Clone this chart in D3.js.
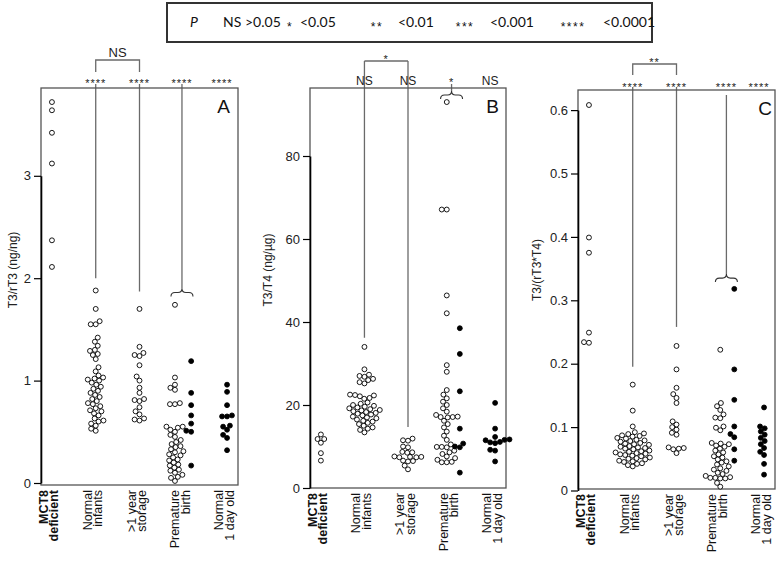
<!DOCTYPE html>
<html><head><meta charset="utf-8">
<script src="https://cdn.jsdelivr.net/npm/d3@7"></script>
<style>body{margin:0;background:#fff}</style>
</head><body><svg id="chart" width="777" height="561"></svg>
<script>
// ---------------- DATA ----------------
const categories = [["MCT8","deficient"],["Normal","infants"],[">1 year","storage"],["Premature","birth"],["Normal","1 day old"]];
const legendItems = [["NS",">0.05"],["*","<0.05"],["**","<0.01"],["***","<0.001"],["****","<0.0001"]];

// Panel A: T3/rT3 (ng/ng)
const ticksA = [0,1,2,3];
const a_mct8 = [3.72,3.64,3.42,3.12,2.37,2.11];
const a_infants = [1.88,1.70,1.58,1.55,1.55,1.42,1.38,1.34,1.30,1.29,1.26,1.25,1.21,1.13,1.09,1.05,1.03,1.02,1.01,1.00,0.98,0.96,0.94,0.92,0.90,0.88,0.86,0.84,0.82,0.80,0.78,0.77,0.75,0.73,0.71,0.70,0.68,0.66,0.63,0.61,0.60,0.58,0.56,0.53,0.51];
const a_storage = [1.70,1.33,1.27,1.25,1.24,1.15,1.04,1.00,0.93,0.88,0.82,0.81,0.80,0.74,0.70,0.67,0.63,0.62,0.61];
const a_premOpen = [1.74,1.03,0.96,0.93,0.91,0.78,0.77,0.77,0.55,0.55,0.54,0.52,0.50,0.47,0.45,0.42,0.40,0.38,0.36,0.35,0.33,0.31,0.30,0.28,0.27,0.25,0.23,0.22,0.20,0.18,0.17,0.15,0.13,0.12,0.10,0.08,0.06,0.05,0.02];
const a_premFilled = [1.19,0.88,0.76,0.66,0.58,0.51,0.50,0.17];
const a_day1 = [0.96,0.89,0.76,0.66,0.65,0.65,0.56,0.55,0.52,0.47,0.44,0.32];
const sigA = ["****","****","****","****"];
const lineEndA = [2.0,1.87,1.86];

// Panel B: T3/T4 (ng/µg)
const ticksB = [0,20,40,60,80];
const b_mct8 = [12.9,11.8,11.8,10.9,8.4,6.6];
const b_infants = [34.0,28.6,27.3,27.0,26.8,26.3,26.0,25.5,25.2,22.5,22.4,22.3,22.1,21.7,21.5,20.6,20.3,20.0,19.8,19.6,19.4,19.2,19.0,18.8,18.7,18.5,18.3,18.1,17.9,17.7,17.5,17.2,17.0,16.8,16.5,16.2,16.0,15.7,15.4,15.0,14.6,14.3,14.0,13.4];
const b_storage = [11.9,11.5,11.4,10.0,9.8,8.7,8.6,8.5,7.6,7.5,7.5,7.4,7.4,6.6,6.5,6.4,5.4,4.5];
const b_premOpen = [93.0,67.1,67.1,46.4,42.1,29.6,28.0,23.6,22.5,21.6,20.8,20.0,19.2,18.4,17.6,17.2,17.1,17.1,17.0,16.2,15.4,14.6,13.6,12.6,11.6,10.5,9.9,9.9,9.8,9.0,8.6,8.2,7.6,7.2,6.8,6.3,6.2,6.2];
const b_premFilled = [38.5,32.3,23.3,14.3,10.7,10.0,9.8,3.7];
const b_day1 = [20.5,14.3,12.3,11.7,11.6,11.5,11.1,11.0,10.8,9.2,9.0,6.4];
const sigB = ["NS","NS","*","NS"];
const lineEndB = [36.2,14.7,94.7];

// Panel C: T3/(rT3*T4)
const ticksC = [0,0.1,0.2,0.3,0.4,0.5,0.6];
const c_mct8 = [0.608,0.399,0.375,0.249,0.234,0.233];
const c_infants = [0.167,0.126,0.101,0.092,0.090,0.089,0.087,0.086,0.085,0.083,0.082,0.080,0.079,0.078,0.077,0.075,0.074,0.073,0.072,0.070,0.069,0.068,0.067,0.066,0.065,0.063,0.062,0.061,0.060,0.059,0.058,0.057,0.056,0.055,0.054,0.052,0.051,0.050,0.049,0.047,0.046,0.045,0.043,0.042,0.040,0.038];
const c_storage = [0.228,0.191,0.162,0.152,0.146,0.138,0.109,0.104,0.100,0.096,0.091,0.088,0.068,0.067,0.066,0.065,0.059];
const c_premOpen = [0.222,0.138,0.133,0.127,0.120,0.115,0.114,0.101,0.099,0.095,0.075,0.074,0.073,0.071,0.069,0.066,0.063,0.060,0.057,0.054,0.052,0.049,0.046,0.044,0.041,0.038,0.035,0.033,0.031,0.028,0.026,0.023,0.021,0.020,0.020,0.019,0.019,0.012,0.006];
const c_premFilled = [0.318,0.191,0.143,0.101,0.089,0.084,0.065,0.047];
const c_day1 = [0.131,0.101,0.098,0.093,0.088,0.083,0.078,0.073,0.067,0.061,0.056,0.042,0.025];
const sigC = ["****","****","****","****"];
const lineEndC = [0.195,0.258,0.335];

const bracketLabels = ["NS","*","**"];
const yTitles = ["T3/rT3 (ng/ng)","T3/T4 (ng/µg)","T3/(rT3*T4)"];
const panelLetters = ["A","B","C"];

// ---------------- DRAWING ----------------
const FONT = "'Liberation Sans', Arial, Helvetica, sans-serif";
const svg = d3.select("#chart");
svg.append("rect").attr("width",777).attr("height",561).attr("fill","#fff");

const R = 2.45, D = 5.0;
function swarm(values, y){
  const pts = values.map(v=>({v, y:y(v)})).sort((a,b)=>a.v-b.v);
  const placed = [];
  pts.forEach(p=>{
    const cands=[0];
    placed.forEach(q=>{ const dy=Math.abs(p.y-q.y); if(dy<D){ const dx=Math.sqrt(D*D-dy*dy); cands.push(q.x+dx,q.x-dx);} });
    cands.sort((a,b)=>Math.abs(a)-Math.abs(b) || a-b);
    for(const c of cands){
      let ok=true;
      for(const q of placed){ const dx=c-q.x, dy=p.y-q.y; if(dx*dx+dy*dy < D*D-0.01){ok=false;break;} }
      if(ok){p.x=c;break;}
    }
    placed.push(p);
  });
  return placed;
}
function bracePath(x0,x1,yb){
  const xc=(x0+x1)/2, h=4;
  return `M${x0},${yb+h} Q${x0},${yb} ${x0+h},${yb} L${xc-h},${yb} Q${xc},${yb} ${xc},${yb-h} Q${xc},${yb} ${xc+h},${yb} L${x1-h},${yb} Q${x1},${yb} ${x1},${yb+h}`;
}

const panels = [
  {left:41,right:238,top:88,bottom:485,yRange:[483,175.8],ticks:ticksA,fmt:d3.format("d"),
   groups:[a_mct8,a_infants,a_storage,a_premOpen,a_premFilled,a_day1],sig:sigA,lineEnd:lineEndA,
   openOff:-0.19,fillOff:0.18,lineOff:-0.03,sigY:87,nsY:85,lineTop:84,premTop:84,
   br:{y:60,leg:72,labY:57},letter:[230,113],titleX:17},
  {left:310,right:506,top:88,bottom:488,yRange:[488,156],ticks:ticksB,fmt:d3.format("d"),
   groups:[b_mct8,b_infants,b_storage,b_premOpen,b_premFilled,b_day1],sig:sigB,lineEnd:lineEndB,
   openOff:-0.11,fillOff:0.19,lineOff:0,sigY:86,nsY:85,lineTop:61,premTop:84,
   br:{y:61,leg:61,labY:63},letter:[499,113],titleX:272},
  {left:578,right:775,top:90,bottom:489,yRange:[490.5,110.1],ticks:ticksC,fmt:d=>d===0?"0":d3.format(".1f")(d),
   groups:[c_mct8,c_infants,c_storage,c_premOpen,c_premFilled,c_day1],sig:sigC,lineEnd:lineEndC,
   openOff:0,fillOff:0.32,lineOff:0.14,sigY:91,nsY:89,lineTop:87,premTop:95,
   br:{y:64,leg:75,labY:66},letter:[772,115],titleX:541}
];

panels.forEach((cfg,pi)=>{
  const x = d3.scaleLinear().domain([0.75,5.25]).range([cfg.left,cfg.right]);
  const y = d3.scaleLinear().domain([cfg.ticks[0],cfg.ticks[cfg.ticks.length-1]]).range(cfg.yRange);
  const g = svg.append("g");

  const lc = "#6a6a6a";
  const x2 = x(2), x3 = x(3), x4 = x(4+cfg.lineOff);
  g.append("path").attr("d",`M${x2},${cfg.br.leg}V${cfg.br.y}H${x3}V${cfg.br.leg}`).attr("fill","none").attr("stroke",lc).attr("stroke-width",1.3);
  g.append("line").attr("x1",x2).attr("x2",x2).attr("y1",cfg.lineTop).attr("y2",y(cfg.lineEnd[0])).attr("stroke",lc).attr("stroke-width",1.3);
  g.append("line").attr("x1",x3).attr("x2",x3).attr("y1",cfg.lineTop).attr("y2",y(cfg.lineEnd[1])).attr("stroke",lc).attr("stroke-width",1.3);
  const yb = y(cfg.lineEnd[2]);
  g.append("line").attr("x1",x4).attr("x2",x4).attr("y1",cfg.premTop).attr("y2",yb-4).attr("stroke",lc).attr("stroke-width",1.3);
  g.append("path").attr("d",bracePath(x4-11,x4+11,yb)).attr("fill","none").attr("stroke","#333").attr("stroke-width",1.1);

  const bl = bracketLabels[pi];
  g.append("text").attr("x",(x2+x3)/2).attr("y",cfg.br.labY).attr("text-anchor","middle")
    .attr("font-family",FONT).attr("font-size",bl==="NS"?13:11).attr("letter-spacing",bl==="NS"?0:1).attr("fill","#222").text(bl);

  const sigX = [x(2),x(3),x4,x(5)-5];
  cfg.sig.forEach((s,i)=>{
    const isNS = s==="NS";
    g.append("text").attr("x",sigX[i]).attr("y",isNS?cfg.nsY:cfg.sigY).attr("text-anchor","middle")
      .attr("font-family",FONT).attr("font-size",isNS?12:11).attr("letter-spacing",isNS?0:1).attr("fill","#222").text(s);
  });

  g.append("rect").attr("x",cfg.left).attr("y",cfg.top).attr("width",cfg.right-cfg.left).attr("height",cfg.bottom-cfg.top)
    .attr("fill","none").attr("stroke","#555").attr("stroke-width",1.3);

  const ax = g.append("g").attr("transform",`translate(${cfg.left},0)`)
    .call(d3.axisLeft(y).tickValues(cfg.ticks).tickSize(7).tickSizeOuter(0).tickPadding(3).tickFormat(cfg.fmt));
  ax.select(".domain").attr("stroke","#000").attr("stroke-width",1.6);
  ax.selectAll(".tick line").attr("stroke","#000").attr("stroke-width",1.2);
  ax.selectAll(".tick text").attr("font-family",FONT).attr("font-size",13).attr("fill","#222");

  const pos = [1,2,3,4+cfg.openOff,4+cfg.fillOff,5];
  const filled = [false,false,false,false,true,true];
  cfg.groups.forEach((vals,gi)=>{
    const pts = swarm(vals,y);
    g.append("g").selectAll("circle").data(pts).join("circle")
      .attr("cx",d=>x(pos[gi])+d.x).attr("cy",d=>d.y).attr("r",R)
      .attr("fill",filled[gi]?"#000":"#fff").attr("stroke","#000").attr("stroke-width",0.9);
  });

  categories.forEach((c,i)=>{
    const cx = x(i+1);
    const t = g.append("text").attr("transform",`translate(${cx},${cfg.bottom+5}) rotate(-90)`)
      .attr("text-anchor","end").attr("font-family",FONT).attr("font-size",12.5)
      .attr("font-weight",i===0?"bold":"normal").attr("fill","#111");
    t.append("tspan").attr("x",0).attr("y",-4).text(c[0]);
    t.append("tspan").attr("x",0).attr("y",6.5).text(c[1]);
  });

  g.append("text").attr("transform",`translate(${cfg.titleX},270) rotate(-90)`).attr("text-anchor","middle")
    .attr("font-family",FONT).attr("font-size",12).attr("fill","#222").text(yTitles[pi]);

  g.append("text").attr("x",cfg.letter[0]).attr("y",cfg.letter[1]).attr("text-anchor","end")
    .attr("font-family",FONT).attr("font-size",19).attr("fill","#111").text(panelLetters[pi]);
});

// ---------------- LEGEND ----------------
const LF = "Lato, 'Open Sans', sans-serif";
const lg = svg.append("g");
lg.append("rect").attr("x",167).attr("y",3).attr("width",485).attr("height",39).attr("fill","#fff").attr("stroke","#333").attr("stroke-width",2);
lg.append("text").attr("x",190).attr("y",27).attr("font-family",LF).attr("font-size",14).attr("font-style","italic").attr("fill","#111").text("P");
const symX = [223,290,377,465,573];
const labX = [245,300,398,490,603];
legendItems.forEach((it,i)=>{
  if(it[0]==="NS"){
    lg.append("text").attr("x",symX[i]).attr("y",27).attr("font-family",LF).attr("font-size",14).attr("fill","#111").text(it[0]);
  } else {
    lg.append("text").attr("x",symX[i]).attr("y",31).attr("text-anchor","middle").attr("font-family",FONT).attr("font-size",12).attr("letter-spacing",1.5).attr("fill","#111").text(it[0]);
  }
  lg.append("text").attr("x",labX[i]).attr("y",27).attr("font-family",LF).attr("font-size",14).attr("fill","#111").text(it[1]);
});
</script>
</body></html>
